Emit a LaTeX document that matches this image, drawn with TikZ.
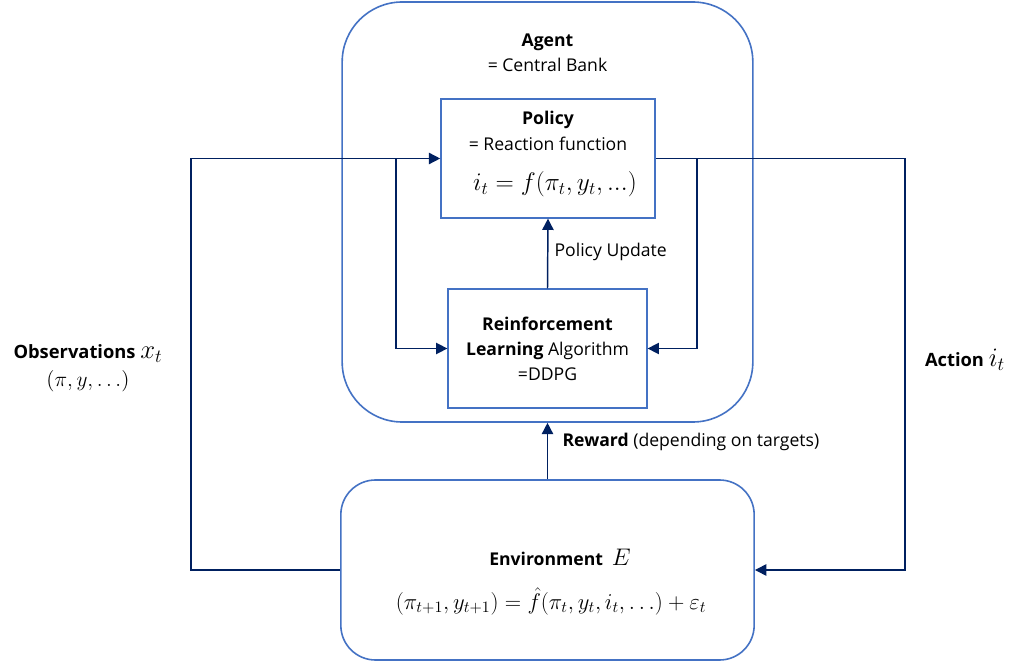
\documentclass[tikz,border=0pt]{standalone}
\usepackage{fix-cm}
\usepackage{fontspec}
\setmainfont{Open Sans}
\usetikzlibrary{positioning,arrows.meta}
\definecolor{boxblue}{RGB}{68,114,196}
\definecolor{navy}{RGB}{0,32,96}

\begin{document}
\begin{tikzpicture}[x=0.75pt, y=-0.75pt, font=\fontsize{13.2}{19}\selectfont]
\tikzset{
  rbox/.style={draw=boxblue, line width=1.2pt, fill=white, inner sep=0pt},
  lbl/.style={align=center, inner sep=1pt},
  side/.style={align=center, inner sep=1pt, font=\fontsize{13.75}{21}\selectfont},
  eqbig/.style={inner sep=1pt, font=\fontsize{19}{19}\selectfont},
  arr/.style={-{Triangle[length=8.5pt, width=8.5pt]}, line width=1.1pt, navy},
}
\useasboundingbox (0,0) rectangle (1014,666);

% ---- boxes ----
\node[rbox, rounded corners=45pt, minimum width=308pt, minimum height=315pt] (agent) at (547.5,212) {};
\node[rbox, minimum width=160.5pt, minimum height=89pt] (policy) at (548,158.5) {};
\node[rbox, minimum width=149pt, minimum height=89pt] (rl) at (547.5,348.5) {};
\node[rbox, rounded corners=26pt, minimum width=310pt, minimum height=135pt] (env) at (547.5,570) {};

% ---- texts ----
\node[lbl] (agentlbl) at (547.5,53) {\textbf{Agent}\\= Central Bank};
\node[lbl] (policylbl) at (548,131) {\textbf{Policy}\\= Reaction function};
\node[eqbig] (policyeq) at (555,184) {$i_t = f(\pi_t, y_t, ...)$};
\node[lbl] (rllbl) at (547.5,349) {\textbf{Reinforcement}\\\textbf{Learning} Algorithm\\=DDPG};
\node[lbl] (envlbl) at (560,557) {\textbf{Environment}\enspace{\fontsize{18}{19}\selectfont$E$}};
\node[inner sep=1pt, font=\fontsize{17}{18}\selectfont] (enveq) at (551,601)
  {$(\pi_{t+1}, y_{t+1}) = \hat{f}(\pi_t, y_t, i_t, \ldots) + \varepsilon_t$};
\node[side] (obslbl) at (88,368) {\textbf{Observations} {\fontsize{20}{21}\selectfont$x_t$}\\{\fontsize{16}{21}\selectfont$(\pi, y, \ldots)$}};
\node[side] (actlbl) at (965,360) {\textbf{Action} {\fontsize{20}{21}\selectfont$i_t$}};

% ---- observation loop ----
\coordinate (obsL) at (191,570);
\coordinate (obsB) at (396,158.5);
\draw[arr] (env.west) -- (obsL) |- (policy.west);
\draw[arr] (obsB) |- (rl.west);

% ---- action loop ----
\coordinate (actR) at (905,570);
\coordinate (actB) at (697,158.5);
\draw[arr] (policy.east) -| (actR) -- (env.east);
\draw[arr] (actB) |- (rl.east);

% ---- update and reward ----
\draw[arr] (rl.north) -- (policy.south);
\node[lbl, anchor=west] (updlbl) at (553,252) {Policy Update};
\draw[arr] (env.north) -- (agent.south);
\node[lbl, anchor=west] (rewlbl) at (561,442) {\textbf{Reward} (depending on targets)};

\end{tikzpicture}
\end{document}
